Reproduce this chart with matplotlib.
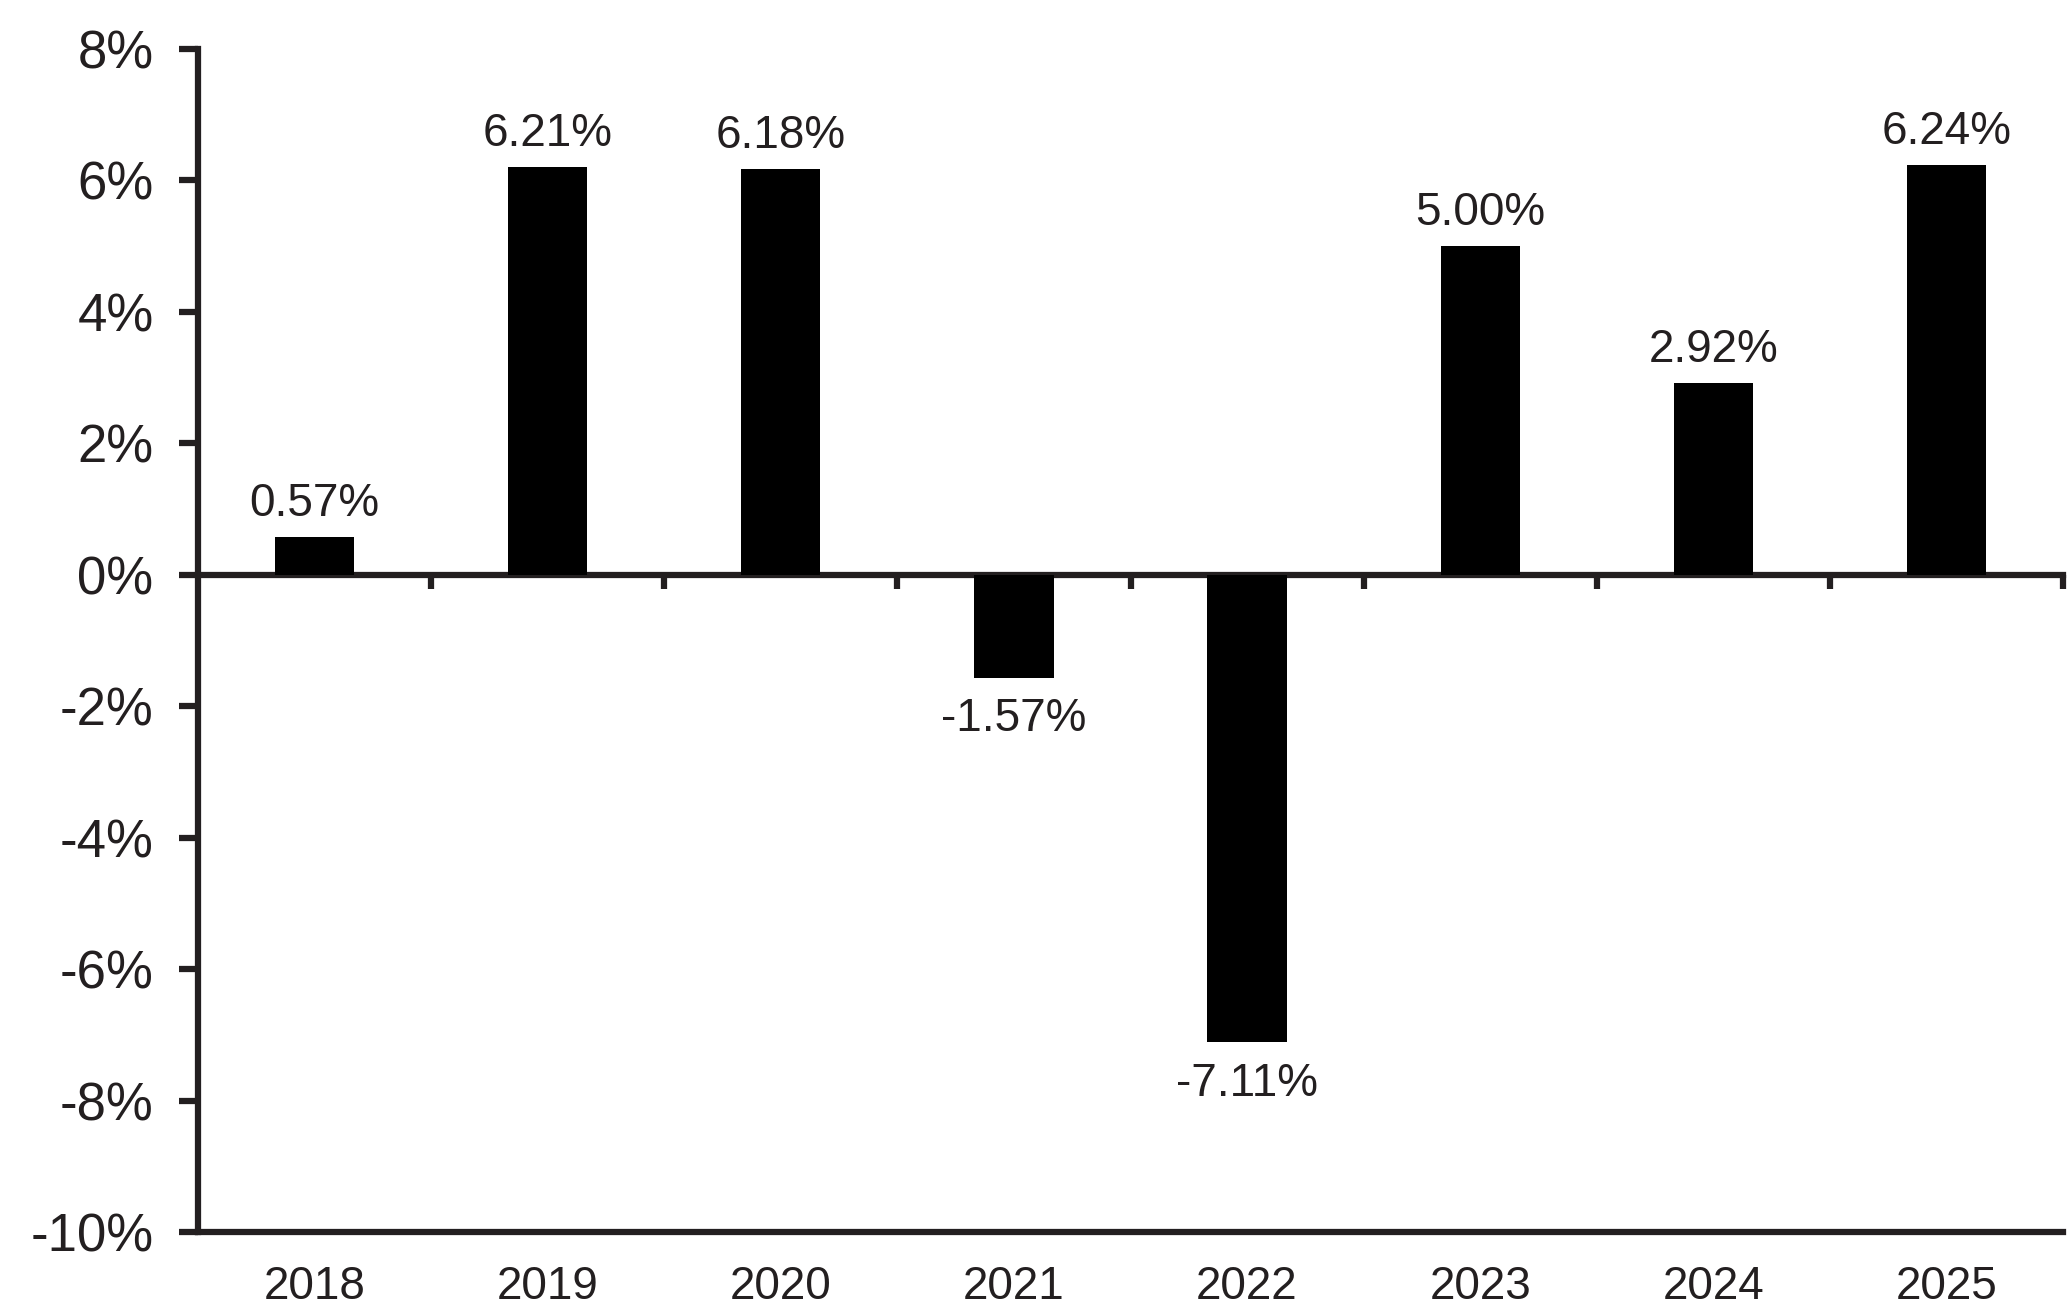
import numpy as np
import matplotlib
matplotlib.use('Agg')
import matplotlib.pyplot as plt

plt.rcParams['font.family'] = ['Liberation Sans', 'DejaVu Sans']

# 数据
years = ['2018', '2019', '2020', '2021', '2022', '2023', '2024', '2025']
returns = [0.57, 6.21, 6.18, -1.57, -7.11, 5.00, 2.92, 6.24]
yticks = [8, 6, 4, 2, 0, -2, -4, -6, -8, -10]

ink = '#231f20'
lw = 4.5

fig = plt.figure(figsize=(20.67, 13.08), dpi=100)
ax = fig.add_axes([198/2067, 1-1232/1308, (2063-198)/2067, (1232-49)/1308])

x = np.arange(len(years))
bars = ax.bar(x, returns, width=0.34, color='black', zorder=3)

for xi, v in zip(x, returns):
    if v >= 0:
        ax.annotate('%.2f%%' % v, (xi, v), xytext=(0, 8), textcoords='offset points',
                    ha='center', va='bottom', fontsize=33, color=ink)
    else:
        ax.annotate('%.2f%%' % v, (xi, v), xytext=(0, -14), textcoords='offset points',
                    ha='center', va='top', fontsize=33, color=ink)

ax.set_xlim(-0.5, len(years) - 0.5)
ax.set_ylim(-10, 8)
ax.set_yticks(yticks)
ax.set_yticklabels(['%d%%' % t for t in yticks])
ax.set_xticks(x)
ax.set_xticklabels(years)

ax.spines['top'].set_visible(False)
ax.spines['right'].set_visible(False)
for s in ['left', 'bottom']:
    ax.spines[s].set_linewidth(lw)
    ax.spines[s].set_color(ink)

ax.tick_params(axis='y', length=14, width=lw, color=ink, labelsize=38,
               labelcolor=ink, pad=18)
ax.tick_params(axis='x', length=0, labelsize=33, labelcolor=ink, pad=24)

# 零线及分隔刻度
zero = ax.secondary_xaxis(0, transform=ax.transData)
zero.set_xticks(np.arange(len(years)) + 0.5)
zero.set_xticklabels([])
zero.tick_params(axis='x', direction='out', length=10, width=lw, color=ink)
zero.spines['bottom'].set_linewidth(lw)
zero.spines['bottom'].set_color(ink)
zero.spines['bottom'].set_zorder(4)

fig.savefig('out.png', dpi=100)
